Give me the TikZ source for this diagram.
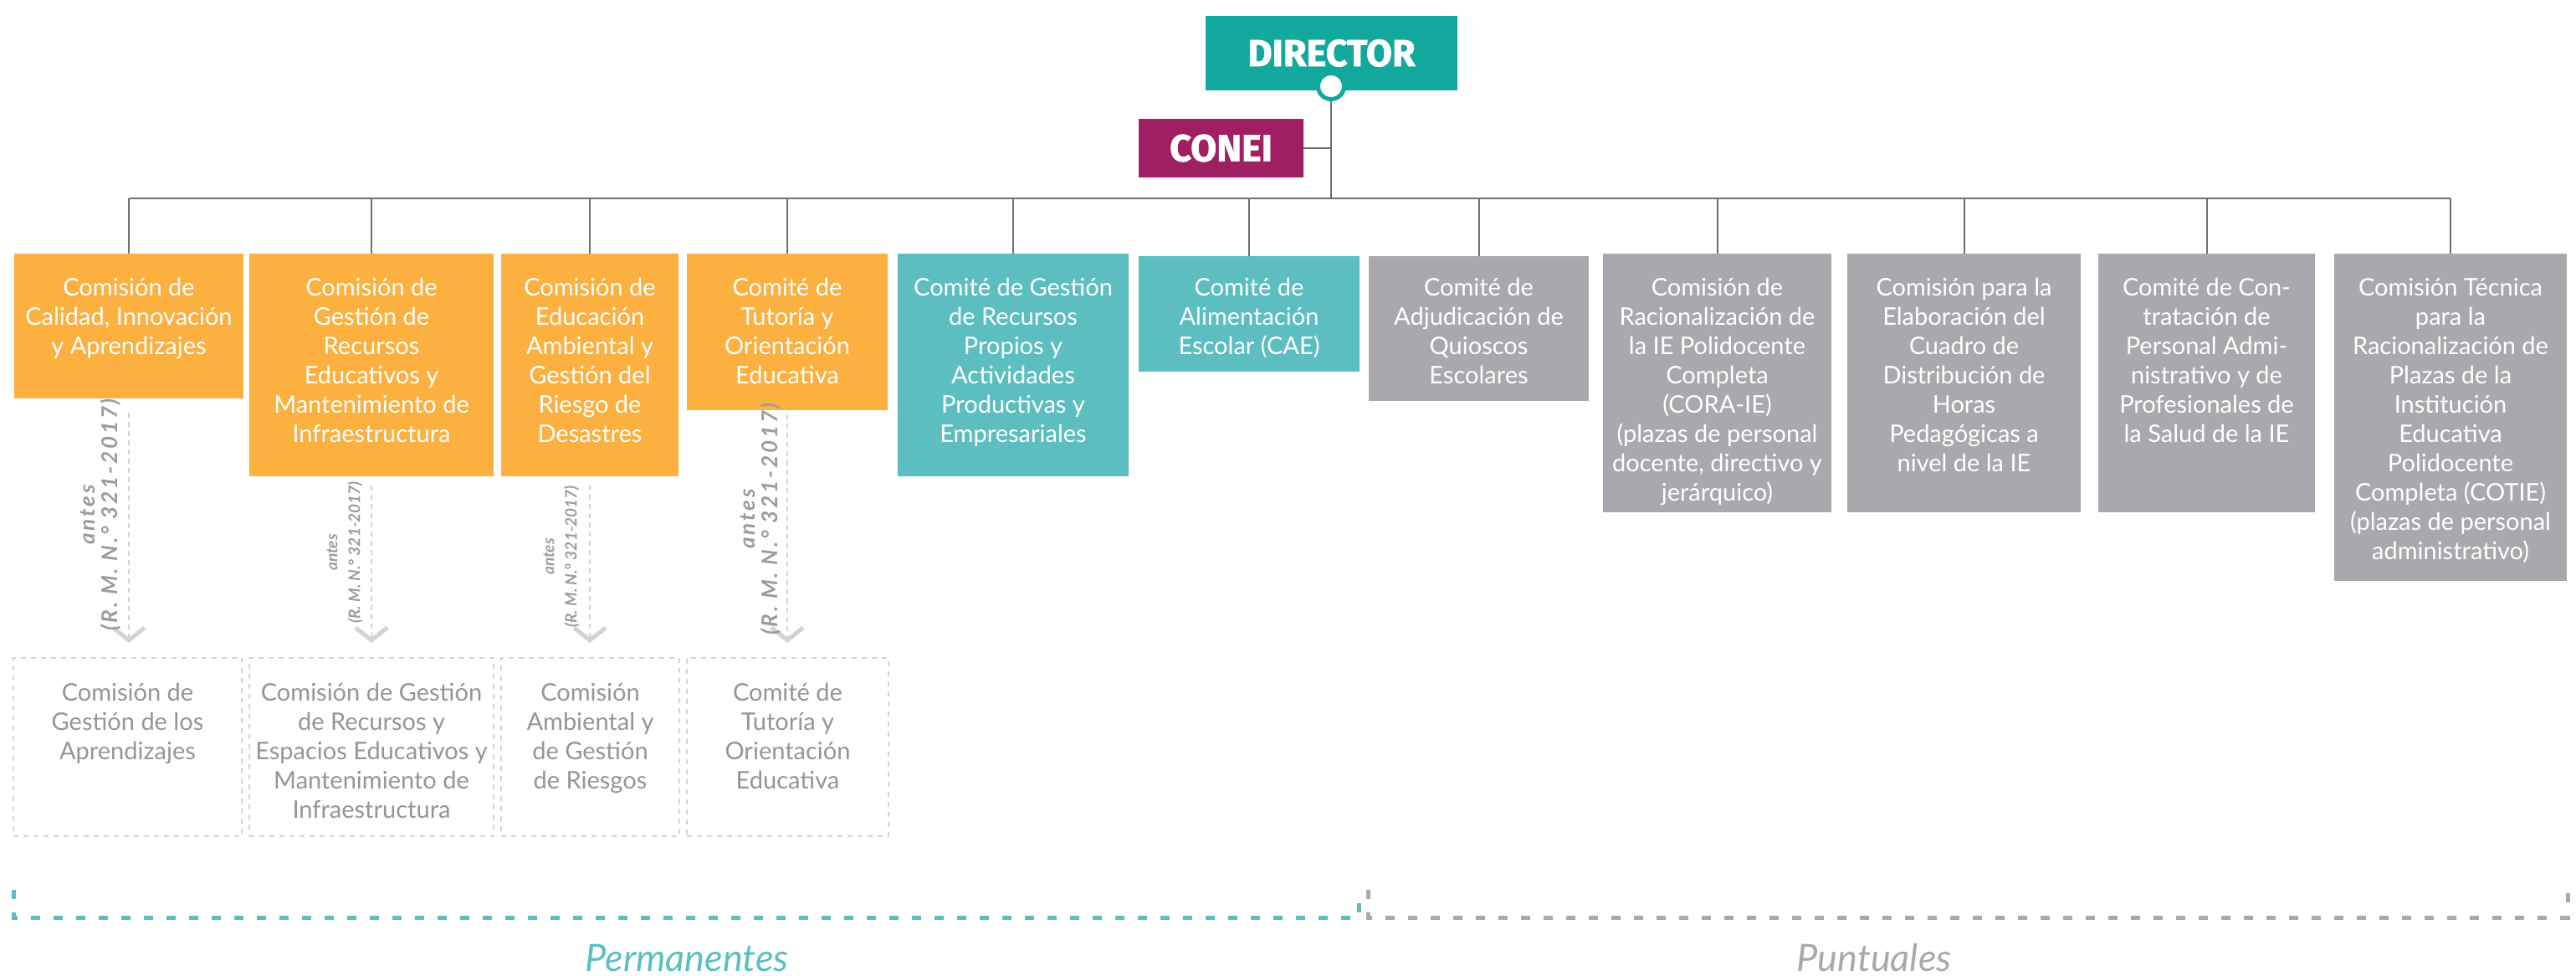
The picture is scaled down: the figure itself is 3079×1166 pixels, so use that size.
\documentclass[tikz,border=0pt]{standalone}
\usepackage{fontspec}
\setmainfont{Lato}
\newfontfamily\headfont{Fira Sans}[BoldFeatures={FakeBold=1.5}]
\newfontfamily\annotfont{Lato}[LetterSpace=11]
\usetikzlibrary{arrows.meta}
\definecolor{dirteal}{HTML}{12A89D}
\definecolor{coneic}{HTML}{A01F62}
\definecolor{orangec}{HTML}{FBB040}
\definecolor{lteal}{HTML}{5DBEC1}
\definecolor{grayc}{HTML}{A7A9AC}
\definecolor{linegray}{HTML}{6D6E71}
\definecolor{dashgray}{HTML}{D1D3D4}
\definecolor{oldtext}{HTML}{939598}
\definecolor{annotgray}{HTML}{9C9C9F}
\begin{document}
\begin{tikzpicture}[x=0.5pt,y=-0.5pt,
  conn/.style={draw=linegray, line width=1pt},
  cbox/.style={rectangle, inner sep=0pt, outer sep=0pt, anchor=north west},
  oldbox/.style={cbox, draw=dashgray, line width=1pt, dash pattern=on 3pt off 3pt},
  btxt/.style={inner sep=0pt, align=center, text=white, anchor=north,
    font=\fontsize{14.5}{17.5}\selectfont, execute at begin node={\rule{0pt}{12.5pt}}},
  otxt/.style={btxt, text=oldtext},
  annotbig/.style={rotate=90, inner sep=0pt, align=center, text=annotgray,
    font=\annotfont\bfseries\itshape\fontsize{13}{13.5}\selectfont},
  annotsmall/.style={rotate=90, inner sep=0pt, align=center, text=annotgray,
    font=\bfseries\itshape\fontsize{9.5}{13.5}\selectfont},
  darr/.style={draw=dashgray, line width=1pt, dash pattern=on 3pt off 2.5pt,
    -{Straight Barb[length=7.5pt,width=19pt,line width=2.5pt]}},
  brk/.style={line width=2.5pt, dash pattern=on 5.5pt off 8pt},
  head/.style={cbox, text=white, font=\headfont\bfseries\fontsize{22.5}{24}\selectfont},
  group/.style={anchor=base, font=\itshape\fontsize{22.5}{26}\selectfont}
]
\useasboundingbox (0,0) rectangle (3079,1166);

% top
\node[head, fill=dirteal, minimum width=150.5pt, minimum height=44.5pt] (dir) at (1441,19) {DIRECTOR};
\node[head, fill=coneic, minimum width=98.5pt, minimum height=35pt] (conei) at (1361,142) {CONEI};

% committee boxes
\node[cbox, fill=orangec, minimum width=137pt,   minimum height=86.5pt]  (b1)  at (17,303) {};
\node[cbox, fill=orangec, minimum width=146pt,   minimum height=133pt]   (b2)  at (298,303) {};
\node[cbox, fill=orangec, minimum width=106pt,   minimum height=133pt]   (b3)  at (599,303) {};
\node[cbox, fill=orangec, minimum width=120pt,   minimum height=93.5pt]  (b4)  at (821,303) {};
\node[cbox, fill=lteal,   minimum width=138pt,   minimum height=133pt]   (b5)  at (1073,303) {};
\node[cbox, fill=lteal,   minimum width=132pt,   minimum height=69pt]    (b6)  at (1361,306) {};
\node[cbox, fill=grayc,   minimum width=131.5pt, minimum height=86.5pt]  (b7)  at (1636,306) {};
\node[cbox, fill=grayc,   minimum width=136.5pt, minimum height=154.5pt] (b8)  at (1916,303) {};
\node[cbox, fill=grayc,   minimum width=139.5pt, minimum height=154.5pt] (b9)  at (2208,303) {};
\node[cbox, fill=grayc,   minimum width=129.5pt, minimum height=154.5pt] (b10) at (2508,303) {};
\node[cbox, fill=grayc,   minimum width=139pt,   minimum height=195.5pt] (b11) at (2790,303) {};

% connectors
\coordinate (bus) at (1591,237);
\node[circle, fill=white, draw=dirteal, line width=2.5pt, minimum size=15.5pt, inner sep=0pt] (dirc) at (1591,103) {};
\draw[conn] (dirc.south) -- (bus);
\draw[conn] (conei.east) -- (conei.east -| dirc);
\draw[conn] (b1.north |- bus) -- (b11.north |- bus);
\foreach \i in {1,...,11} {\draw[conn] (b\i.north |- bus) -- (b\i.north);}

% texts
\node[btxt] (t1)  at (b1.north |- 0,332)  {Comisión de\\Calidad, Innovación\\y Aprendizajes};
\node[btxt] (t2)  at (b2.north |- 0,332)  {Comisión de\\Gestión de\\Recursos\\Educativos y\\Mantenimiento de\\Infraestructura};
\node[btxt] (t3)  at (b3.north |- 0,332)  {Comisión de\\Educación\\Ambiental y\\Gestión del\\Riesgo de\\Desastres};
\node[btxt] (t4)  at (b4.north |- 0,332)  {Comité de\\Tutoría y\\Orientación\\Educativa};
\node[btxt] (t5)  at (b5.north |- 0,332)  {Comité de Gestión\\de Recursos\\Propios y\\Actividades\\Productivas y\\Empresariales};
\node[btxt] (t6)  at (b6.north |- 0,332)  {Comité de\\Alimentación\\Escolar (CAE)};
\node[btxt] (t7)  at (b7.north |- 0,332)  {Comité de\\Adjudicación de\\Quioscos\\Escolares};
\node[btxt] (t8)  at (b8.north |- 0,332)  {Comisión de\\Racionalización de\\la IE Polidocente\\Completa\\(CORA-IE)\\(plazas de personal\\docente, directivo y\\jerárquico)};
\node[btxt] (t9)  at (b9.north |- 0,332)  {Comisión para la\\Elaboración del\\Cuadro de\\Distribución de\\Horas\\Pedagógicas a\\nivel de la IE};
\node[btxt] (t10) at (b10.north |- 0,332) {Comité de Con-\\tratación de\\Personal Admi-\\nistrativo y de\\Profesionales de\\la Salud de la IE};
\node[btxt] (t11) at (b11.north |- 0,332) {Comisión Técnica\\para la\\Racionalización de\\Plazas de la\\Institución\\Educativa\\Polidocente\\Completa (COTIE)\\(plazas de personal\\administrativo)};

% former committees
\node[oldbox, minimum width=136.5pt, minimum height=106.5pt] (a1) at (16,786) {};
\node[oldbox, minimum width=146pt,   minimum height=106.5pt] (a2) at (298,786) {};
\node[oldbox, minimum width=106.5pt, minimum height=106.5pt] (a3) at (599,786) {};
\node[oldbox, minimum width=120.5pt, minimum height=106.5pt] (a4) at (821,786) {};
\node[otxt] (o1) at (a1.north |- 0,816) {Comisión de\\Gestión de los\\Aprendizajes};
\node[otxt] (o2) at (a2.north |- 0,816) {Comisión de Gestión\\de Recursos y\\Espacios Educativos y\\Mantenimiento de\\Infraestructura};
\node[otxt] (o3) at (a3.north |- 0,816) {Comisión\\Ambiental y\\de Gestión\\de Riesgos};
\node[otxt] (o4) at (a4.north |- 0,816) {Comité de\\Tutoría y\\Orientación\\Educativa};

% dashed arrows
\draw[darr, shorten <=8.5pt, shorten >=9pt] (b1.south) -- (b1.south |- a1.north);
\draw[darr, shorten <=5.5pt, shorten >=9pt] (b2.south) -- (b2.south |- a2.north);
\draw[darr, shorten <=5.5pt, shorten >=9pt] (b3.south) -- (b3.south |- a3.north);
\draw[darr, shorten <=2.5pt, shorten >=9pt] (b4.south) -- (b4.south |- a4.north);
\node[annotbig]   (n1) at (120,615) {antes\\(R. M. N.° 321-2017)};
\node[annotsmall] (n2) at (412,660) {antes\\(R. M. N.° 321-2017)};
\node[annotsmall] (n3) at (671,665) {antes\\(R. M. N.° 321-2017)};
\node[annotbig]   (n4) at (909,620) {antes\\(R. M. N.° 321-2017)};

% brackets
\draw[brk, draw=lteal] (16,1063) -- (16,1096) -- (1624,1096) -- (1624,1063);
\draw[brk, draw=grayc] (1635,1063) -- (1635,1096) -- (3069,1096) -- (3069,1063);
\node[group, text=lteal] (perm) at (821,1160) {Permanentes};
\node[group, text=grayc] (punt) at (2240,1160) {Puntuales};
\end{tikzpicture}
\end{document}
